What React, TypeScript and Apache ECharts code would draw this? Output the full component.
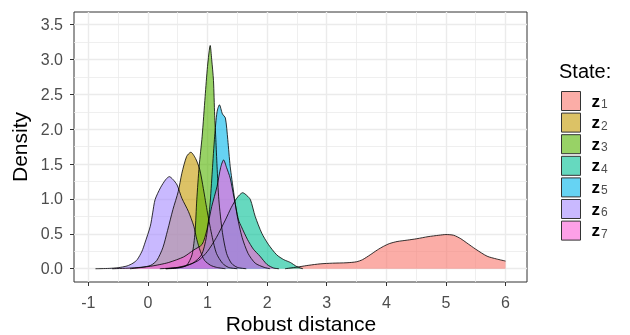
import React, { useEffect, useRef } from "react";
import * as echarts from "echarts";

const states = ["z1", "z2", "z3", "z4", "z5", "z6", "z7"];
const colors = ["#F8766D", "#C49A00", "#53B400", "#00C094", "#00B6EB", "#A58AFF", "#FB61D7"];

const z1 = [[2.3,0],[2.55,0.03],[2.7,0.05],[2.89,0.07],[3.1,0.08],[3.34,0.086],[3.5,0.1],[3.6,0.13],[3.73,0.2],[3.85,0.27],[3.95,0.32],[4.05,0.36],[4.18,0.39],[4.35,0.41],[4.51,0.43],[4.7,0.46],[4.88,0.48],[5.0,0.49],[5.13,0.48],[5.25,0.43],[5.35,0.37],[5.5,0.28],[5.69,0.18],[5.85,0.14],[6.0,0.11]];
const z2 = [[-0.3,0],[-0.1,0.02],[0.05,0.05],[0.15,0.12],[0.25,0.3],[0.33,0.55],[0.42,0.85],[0.51,1.11],[0.57,1.37],[0.65,1.61],[0.72,1.67],[0.8,1.58],[0.87,1.42],[0.93,1.15],[1.0,0.8],[1.08,0.45],[1.15,0.22],[1.25,0.08],[1.35,0.02],[1.5,0]];
const z3 = [[0.3,0],[0.5,0.01],[0.65,0.05],[0.74,0.2],[0.79,0.52],[0.82,0.99],[0.86,1.47],[0.91,1.9],[0.96,2.47],[1.0,2.9],[1.045,3.2],[1.07,3.0],[1.1,2.7],[1.12,2.2],[1.14,1.85],[1.16,1.47],[1.19,0.99],[1.25,0.52],[1.32,0.22],[1.4,0.08],[1.5,0.02],[1.65,0]];
const z4 = [[0.3,0],[0.6,0.03],[0.85,0.12],[1.0,0.25],[1.15,0.45],[1.3,0.7],[1.4,0.88],[1.49,1.01],[1.59,1.09],[1.66,1.05],[1.72,0.99],[1.8,0.75],[1.91,0.51],[2.02,0.35],[2.16,0.2],[2.28,0.13],[2.39,0.09],[2.5,0.03],[2.6,0]];
const z5 = [[0.2,0],[0.5,0.02],[0.75,0.08],[0.9,0.2],[0.98,0.45],[1.04,0.9],[1.08,1.4],[1.12,1.9],[1.16,2.25],[1.2,2.35],[1.25,2.22],[1.3,2.16],[1.34,1.85],[1.38,1.47],[1.44,1.09],[1.5,0.75],[1.58,0.45],[1.68,0.22],[1.8,0.08],[1.95,0.02],[2.05,0]];
const z6 = [[-0.88,0],[-0.65,0.005],[-0.5,0.015],[-0.35,0.04],[-0.25,0.08],[-0.18,0.13],[-0.1,0.25],[-0.05,0.37],[0.04,0.61],[0.08,0.8],[0.12,0.99],[0.21,1.16],[0.3,1.28],[0.36,1.32],[0.42,1.28],[0.49,1.2],[0.57,1.01],[0.68,0.82],[0.77,0.61],[0.82,0.42],[0.88,0.25],[0.95,0.12],[1.05,0.05],[1.15,0.02],[1.3,0]];
const z7 = [[-0.6,0],[-0.3,0.01],[0.0,0.03],[0.2,0.06],[0.35,0.09],[0.6,0.17],[0.77,0.27],[0.91,0.35],[0.99,0.56],[1.07,0.89],[1.16,1.18],[1.22,1.45],[1.27,1.56],[1.32,1.45],[1.38,1.3],[1.44,1.04],[1.52,0.7],[1.57,0.6],[1.67,0.42],[1.77,0.28],[1.88,0.18],[2.0,0.06],[2.11,0.01],[2.2,0]];
const seriesData = [z1, z2, z3, z4, z5, z6, z7];

const xMajor = [-1, 0, 1, 2, 3, 4, 5, 6];
const xMinor = [-0.5, 0.5, 1.5, 2.5, 3.5, 4.5, 5.5];
const yMajor = [0, 0.5, 1, 1.5, 2, 2.5, 3, 3.5];
const yMinor = [0.25, 0.75, 1.25, 1.75, 2.25, 2.75, 3.25];

const FONT = "'Liberation Sans', Arial, sans-serif";

function rgba(hex: string, a: number) {
  const r = parseInt(hex.slice(1, 3), 16);
  const g = parseInt(hex.slice(3, 5), 16);
  const b = parseInt(hex.slice(5, 7), 16);
  return `rgba(${r},${g},${b},${a})`;
}

export default function App() {
  const ref = useRef<HTMLDivElement>(null);
  useEffect(() => {
    if (!ref.current) return;
    const chart = echarts.init(ref.current, undefined, { renderer: "svg" });
    const xMin = -1.24, xMax = 6.36, yMin = -0.19, yMax = 3.68;
    const grid = { left: 74, right: 103, top: 12, bottom: 53 };
    chart.setOption({
      animation: false,
      grid: [{ ...grid, outerBoundsMode: "none", containLabel: false, show: true, borderColor: "#333", borderWidth: 1, backgroundColor: "transparent" }],
      xAxis: [
        {
          type: "value", min: xMin, max: xMax, gridIndex: 0,
          axisLine: { show: false, onZero: false },
          axisTick: { show: true, length: 4, lineStyle: { color: "#333" }, customValues: xMajor },
          axisLabel: { color: "#4D4D4D", fontSize: 16, fontFamily: FONT, margin: 12, customValues: xMajor, formatter: (v: number) => String(v) },
          splitLine: { show: true, lineStyle: { color: "#EBEBEB", width: 1.4 } },
          z: 1,
        },
        {
          type: "value", min: xMin, max: xMax, gridIndex: 0, position: "bottom",
          axisLine: { show: false, onZero: false },
          axisTick: { show: false, customValues: xMinor },
          axisLabel: { show: false, customValues: xMinor },
          splitLine: { show: true, lineStyle: { color: "#EBEBEB", width: 0.8 } },
        },
      ],
      yAxis: [
        {
          type: "value", min: yMin, max: yMax, gridIndex: 0,
          axisLine: { show: false, onZero: false },
          axisTick: { show: true, length: 4, lineStyle: { color: "#333" }, customValues: yMajor },
          axisLabel: { color: "#4D4D4D", fontSize: 16, fontFamily: FONT, margin: 11, customValues: yMajor, formatter: (v: number) => v.toFixed(1) },
          splitLine: { show: true, lineStyle: { color: "#EBEBEB", width: 1.4 } },
          name: "Density", nameLocation: "middle", nameGap: 34, nameRotate: 90,
          nameTextStyle: { fontSize: 21, fontFamily: FONT, color: "#000" },
        },
        {
          type: "value", min: yMin, max: yMax, gridIndex: 0, position: "left",
          axisLine: { show: false, onZero: false },
          axisTick: { show: false, customValues: yMinor },
          axisLabel: { show: false, customValues: yMinor },
          splitLine: { show: true, lineStyle: { color: "#EBEBEB", width: 0.8 } },
        },
      ],
      legend: {
        orient: "vertical", left: 561, top: 91, padding: 0, itemWidth: 19, itemHeight: 19, itemGap: 1.6,
        icon: "rect",
        data: states.map((s, i) => ({
          name: s, icon: "rect",
          itemStyle: { color: rgba(colors[i], 0.6), borderColor: "#333", borderWidth: 1 },
        })),
        formatter: (name: string) => `{z|z}{s|${name.slice(1)}}`,
        textStyle: {
          fontFamily: FONT,
          rich: {
            z: { fontSize: 17, lineHeight: 18, fontWeight: "bold", color: "#000", fontFamily: FONT, padding: [0, 0, 0, 6] },
            s: { fontSize: 12, lineHeight: 12, color: "#4D4D4D", fontFamily: FONT, padding: [6, 0, 0, 1] },
          },
        },
      },
      graphic: [
        { type: "text", left: 559, top: 61, style: { text: "State:", fontSize: 20, fontFamily: FONT, fill: "#000" } },
        { type: "text", x: 301, y: 323, style: { text: "Robust distance", fontSize: 21, fontFamily: FONT, fill: "#000", textAlign: "center", textVerticalAlign: "middle" } },
      ],
      series: states.map((s, i) => ({
        name: s, type: "line", xAxisIndex: 0, yAxisIndex: 0,
        data: seriesData[i], smooth: 0.25, symbol: "none",
        color: rgba(colors[i], 0.6),
        lineStyle: { color: "#000", width: 0.8 },
        areaStyle: { color: rgba(colors[i], 0.6), opacity: 1 },
        z: 2,
      })),
    });
    return () => chart.dispose();
  }, []);
  return <div ref={ref} style={{ position: "fixed", left: 0, top: 0, width: 630, height: 335 }} />;
}
